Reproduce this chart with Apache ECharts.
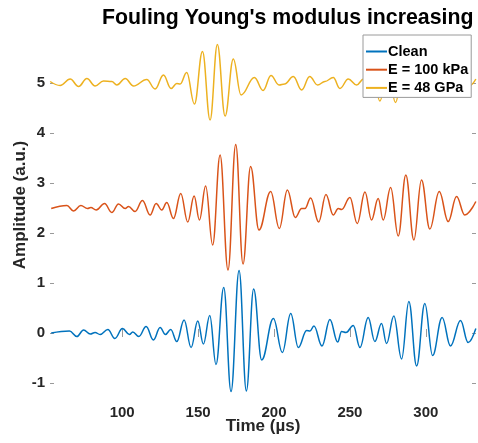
<!DOCTYPE html>
<html>
<head>
<meta charset="utf-8">
<script src="https://cdn.jsdelivr.net/npm/echarts@6/dist/echarts.min.js"></script>
<style>
html, body { margin: 0; padding: 0; background: #fff; }
#main { width: 478px; height: 443px; }
</style>
</head>
<body>
<div id="main"></div>
<script>
// waveform peaks / troughs (time in us, amplitude in a.u.)
var cleanT = [53.3, 65.3, 70.2, 74.6, 79.0, 82.2, 85.5, 90.6, 95.2, 100.2, 104.8, 107.0, 111.0, 115.8, 120.6, 125.0, 128.5, 132.0, 136.0, 140.8, 145.4, 149.8, 153.5, 157.7, 161.8, 166.9, 171.7, 177.0, 181.8, 186.6, 191.9, 199.6, 205.5, 211.0, 216.0, 221.5, 223.7, 226.3, 231.6, 236.8, 241.9, 244.5, 247.4, 252.2, 256.6, 262.0, 266.4, 270.8, 274.1, 278.9, 284.0, 288.8, 293.9, 299.3, 304.4, 310.7, 316.2, 322.8, 327.8, 332.9];
var cleanV = [0.0, 0.04, -0.07, 0.06, -0.02, 0.01, -0.03, 0.07, -0.11, 0.09, -0.03, 0.02, -0.07, 0.13, -0.14, 0.11, -0.03, 0.07, -0.17, 0.26, -0.29, 0.24, -0.22, 0.35, -0.63, 0.91, -1.17, 1.25, -1.16, 0.88, -0.54, 0.29, -0.39, 0.39, -0.29, 0.05, 0.04, 0.14, -0.26, 0.27, -0.18, 0.03, 0.01, 0.15, -0.29, 0.31, -0.17, 0.19, -0.21, 0.34, -0.52, 0.63, -0.66, 0.59, -0.45, 0.31, -0.26, 0.25, -0.19, 0.09];

var kpaT = [53.3, 63.6, 68.0, 72.8, 77.2, 79.4, 82.9, 88.4, 93.2, 97.6, 102.0, 104.2, 108.5, 113.4, 118.4, 122.4, 126.1, 129.4, 133.8, 138.6, 143.2, 147.4, 150.9, 155.0, 159.6, 164.5, 169.7, 174.8, 179.6, 184.6, 190.1, 197.8, 203.5, 208.8, 214.0, 218.2, 220.4, 224.1, 229.4, 234.2, 239.0, 242.3, 244.5, 250.0, 254.8, 259.9, 264.2, 268.6, 271.9, 276.8, 281.8, 286.8, 292.1, 297.1, 302.6, 308.8, 314.7, 320.2, 325.6, 332.9];
var kpaV = [-0.01, 0.05, -0.06, 0.05, -0.01, 0.01, -0.04, 0.09, -0.09, 0.08, -0.01, 0.03, -0.07, 0.15, -0.14, 0.09, -0.04, 0.11, -0.21, 0.29, -0.28, 0.24, -0.24, 0.44, -0.74, 1.06, -1.24, 1.27, -1.12, 0.83, -0.44, 0.33, -0.41, 0.36, -0.19, -0.01, -0.01, 0.20, -0.28, 0.27, -0.14, -0.01, -0.03, 0.21, -0.31, 0.32, -0.24, 0.19, -0.24, 0.41, -0.56, 0.66, -0.64, 0.56, -0.42, 0.33, -0.27, 0.23, -0.14, 0.13];

var gpaT = [52.6, 59.2, 65.8, 71.3, 76.8, 82.2, 87.7, 93.2, 96.5, 102.0, 107.5, 116.2, 121.7, 127.2, 132.2, 136.0, 138.2, 142.5, 147.6, 152.9, 157.9, 162.7, 167.8, 173.2, 178.3, 187.1, 192.8, 198.0, 203.3, 207.0, 212.7, 218.2, 223.5, 228.7, 233.5, 239.0, 243.4, 248.9, 254.4, 259.0, 262.0, 265.0, 269.7, 275.0, 280.0, 285.0, 290.0, 295.0, 300.0, 305.0, 310.0, 315.0, 320.0, 325.0, 329.0, 332.9];
var gpaV = [0.03, -0.05, 0.08, -0.07, 0.09, -0.06, 0.04, 0.03, -0.04, 0.09, -0.06, 0.07, -0.12, 0.16, -0.11, -0.01, -0.02, 0.21, -0.42, 0.63, -0.74, 0.77, -0.66, 0.48, -0.24, 0.11, -0.15, 0.15, -0.04, -0.02, 0.13, -0.14, 0.13, -0.04, 0.03, 0.11, -0.11, 0.08, -0.04, 0.08, 0.0, 0.2, -0.36, 0.3, -0.39, 0.3, -0.2, 0.2, -0.15, 0.15, -0.12, 0.12, -0.1, 0.1, -0.05, 0.08];

var names = ['Clean', 'E = 100 kPa', 'E = 48 GPa'];
var offsets = [0, 2.5, 5];
var colors = ['#0072BD', '#D95319', '#EDB120'];
var xTicks = [100, 150, 200, 250, 300];
var yTicks = [-1, 0, 1, 2, 3, 4, 5];

function pairs(t, v, off) {
    return t.map(function (x, i) { return [x, v[i] + off]; });
}
var waves = [pairs(cleanT, cleanV, offsets[0]), pairs(kpaT, kpaV, offsets[1]), pairs(gpaT, gpaV, offsets[2])];

var font = 'Liberation Sans, Arial, Helvetica, sans-serif';
var tick = { show: true, inside: true, length: 4, lineStyle: { color: '#9a9a9a' } };

var myChart = echarts.init(document.getElementById('main'));
option = {
    animation: false,
    title: {
        text: "Fouling Young's modulus increasing",
        left: 97,
        top: 3,
        textStyle: { fontFamily: font, fontSize: 21.3, fontWeight: 'bold', color: '#000' }
    },
    legend: {
        data: names,
        orient: 'vertical',
        left: 363,
        top: 35,
        itemWidth: 21,
        itemHeight: 14,
        itemGap: 3.2,
        padding: [9, 3, 2, 2],
        backgroundColor: '#fff',
        borderColor: '#9a9a9a',
        borderWidth: 1,
        itemStyle: { opacity: 0 },
        textStyle: { fontFamily: font, fontSize: 14.5, fontWeight: 'bold', color: '#000', padding: [0, 0, 0, -4] }
    },
    grid: { left: 50, right: 2, top: 33, bottom: 50, outerBoundsMode: 'none' },
    xAxis: [{
        type: 'value',
        min: 52.5,
        max: 333,
        name: 'Time (µs)',
        nameLocation: 'middle',
        nameGap: 25,
        nameMoveOverlap: false,
        nameTextStyle: { fontFamily: font, fontSize: 17, fontWeight: 'bold', color: '#262626' },
        axisLine: { show: false },
        splitLine: { show: false },
        axisTick: Object.assign({ customValues: xTicks }, tick),
        axisLabel: { customValues: xTicks, margin: 12, fontFamily: font, fontSize: 15, fontWeight: 'bold', color: '#262626' }
    }, {
        type: 'value',
        position: 'top',
        min: 52.5,
        max: 333,
        axisLine: { show: false },
        splitLine: { show: false },
        axisTick: Object.assign({ customValues: xTicks }, tick),
        axisLabel: { show: false }
    }],
    yAxis: [{
        type: 'value',
        min: -1.2,
        max: 6,
        name: 'Amplitude (a.u.)',
        nameLocation: 'middle',
        nameGap: 21,
        nameMoveOverlap: false,
        nameTextStyle: { fontFamily: font, fontSize: 17, fontWeight: 'bold', color: '#262626', padding: [0, 0, 0, 16] },
        axisLine: { show: false },
        splitLine: { show: false },
        axisTick: Object.assign({ customValues: yTicks }, tick),
        axisLabel: { customValues: yTicks, margin: 5, fontFamily: font, fontSize: 15, fontWeight: 'bold', color: '#262626' }
    }, {
        type: 'value',
        position: 'right',
        min: -1.2,
        max: 6,
        axisLine: { show: false },
        splitLine: { show: false },
        axisTick: Object.assign({ customValues: yTicks }, tick),
        axisLabel: { show: false }
    }],
    series: names.map(function (n, i) {
        return {
            name: n,
            type: 'line',
            symbol: 'none',
            smooth: 0.4,
            smoothMonotone: 'x',
            data: waves[i],
            lineStyle: { color: colors[i], width: 1.5 },
            itemStyle: { color: colors[i] }
        };
    })
};
myChart.setOption(option);
</script>
</body>
</html>
